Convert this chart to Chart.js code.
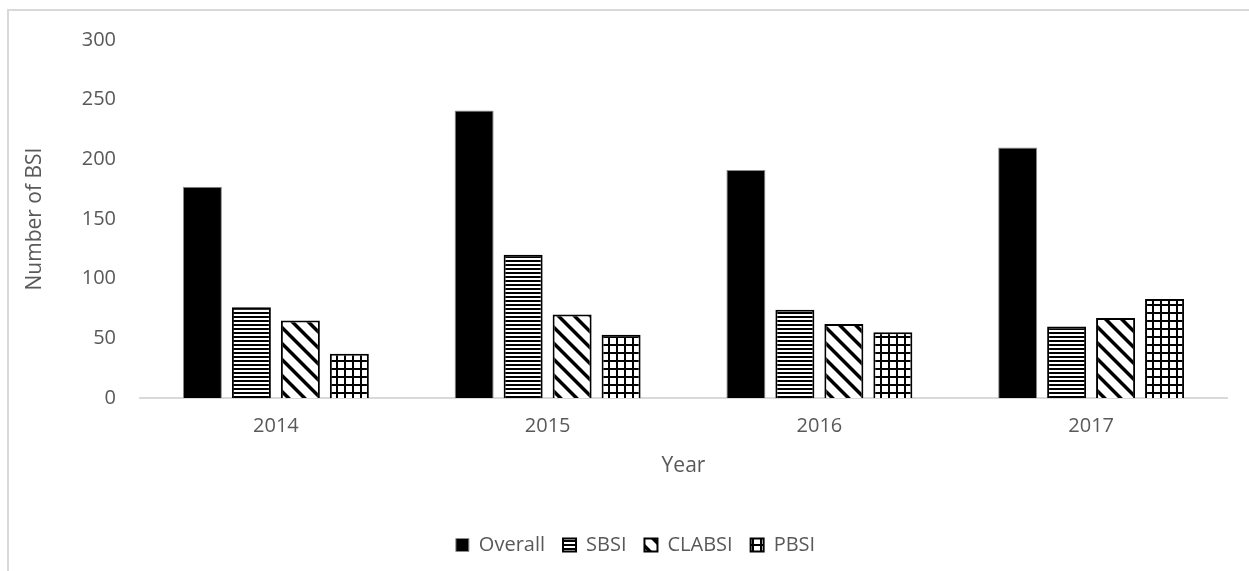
<!DOCTYPE html>
<html>
<head>
<meta charset="utf-8">
<script src="https://cdn.jsdelivr.net/npm/chart.js@4"></script>
<style>
  html, body { margin: 0; padding: 0; background: #fff; }
  #wrap { position: relative; width: 1249px; height: 571px; overflow: hidden; }
  #frame {
    position: absolute; left: 7px; top: 9px; width: 1300px; height: 600px;
    border-top: 2px solid #d9d9d9; border-left: 2px solid #d9d9d9;
    box-sizing: border-box; pointer-events: none;
  }
  canvas { position: absolute; left: 0; top: 0; }
</style>
</head>
<body>
<div id="wrap">
  <canvas id="bsiChart" width="1249" height="571"></canvas>
  <div id="frame"></div>
</div>
<script>
const years = ["2014", "2015", "2016", "2017"];
const overall = [177, 241, 191, 210];
const sbsi = [76, 120, 74, 60];
const clabsi = [65, 70, 62, 67];
const pbsi = [37, 53, 55, 83];
const yTicks = [0, 50, 100, 150, 200, 250, 300];

const FONT = "'Open Sans', 'Noto Sans', sans-serif";
const TEXT = "#595959";

function makePattern(size, draw) {
  const c = document.createElement("canvas");
  c.width = size;
  c.height = size;
  const g = c.getContext("2d");
  g.fillStyle = "#fff";
  g.fillRect(0, 0, size, size);
  g.fillStyle = "#000";
  draw(g, size);
  return document.getElementById("bsiChart").getContext("2d").createPattern(c, "repeat");
}

// horizontal lines
const hLines = makePattern(4, (g) => {
  g.fillRect(0, 0, 4, 2);
});

// wide diagonal stripes going down to the right
const diag = makePattern(16, (g, s) => {
  g.beginPath();
  for (let k = -s; k <= s; k += s) {
    g.moveTo(k, 0);
    g.lineTo(k + 5, 0);
    g.lineTo(k + 5 + s, s);
    g.lineTo(k + s, s);
    g.closePath();
  }
  g.fill();
});

// small grid
const grid = makePattern(8, (g) => {
  g.fillRect(0, 0, 8, 2);
  g.fillRect(0, 0, 2, 8);
});

// legend sits centred under the whole frame, not just the plot area
const legendShift = {
  id: "legendShift",
  afterLayout(chart) {
    chart.legend.left += 22;
    chart.legend.right += 22;
  },
};

new Chart(document.getElementById("bsiChart"), {
  type: "bar",
  data: {
    labels: years,
    datasets: [
      { label: "Overall", data: overall, backgroundColor: "#000", borderColor: "#8c8c8c", borderWidth: 1 },
      { label: "SBSI", data: sbsi, backgroundColor: hLines, borderColor: "#000", borderWidth: 2 },
      { label: "CLABSI", data: clabsi, backgroundColor: diag, borderColor: "#000", borderWidth: 2 },
      { label: "PBSI", data: pbsi, backgroundColor: grid, borderColor: "#000", borderWidth: 2 },
    ],
  },
  plugins: [legendShift],
  options: {
    responsive: false,
    animation: false,
    events: [],
    categoryPercentage: 0.721,
    barPercentage: 0.796,
    layout: { padding: { left: 0, right: 22, top: 40, bottom: 6 } },
    plugins: {
      tooltip: { enabled: false },
      legend: {
        position: "bottom",
        labels: {
          color: TEXT,
          font: { family: FONT, size: 20 },
          boxWidth: 13,
          boxHeight: 13,
          padding: 18,
        },
      },
    },
    scales: {
      x: {
        grid: { display: false },
        border: { display: true, color: "#d9d9d9", width: 2 },
        ticks: { color: TEXT, font: { family: FONT, size: 20 }, padding: 8 },
        title: {
          display: true,
          text: "Year",
          color: TEXT,
          font: { family: FONT, size: 21 },
          padding: { top: 8, bottom: 38 },
        },
        afterFit: (scale) => { scale.height = 119; },
      },
      y: {
        min: 0,
        max: 300,
        afterBuildTicks: (scale) => { scale.ticks = yTicks.map((v) => ({ value: v })); },
        grid: { display: false },
        border: { display: false },
        ticks: { color: TEXT, font: { family: FONT, size: 20 }, padding: 16 },
        title: {
          display: true,
          text: "Number of BSI",
          color: TEXT,
          font: { family: FONT, size: 21 },
          padding: { top: 22, bottom: 10 },
        },
        afterFit: (scale) => { scale.width = 140; },
      },
    },
  },
});
</script>
</body>
</html>
